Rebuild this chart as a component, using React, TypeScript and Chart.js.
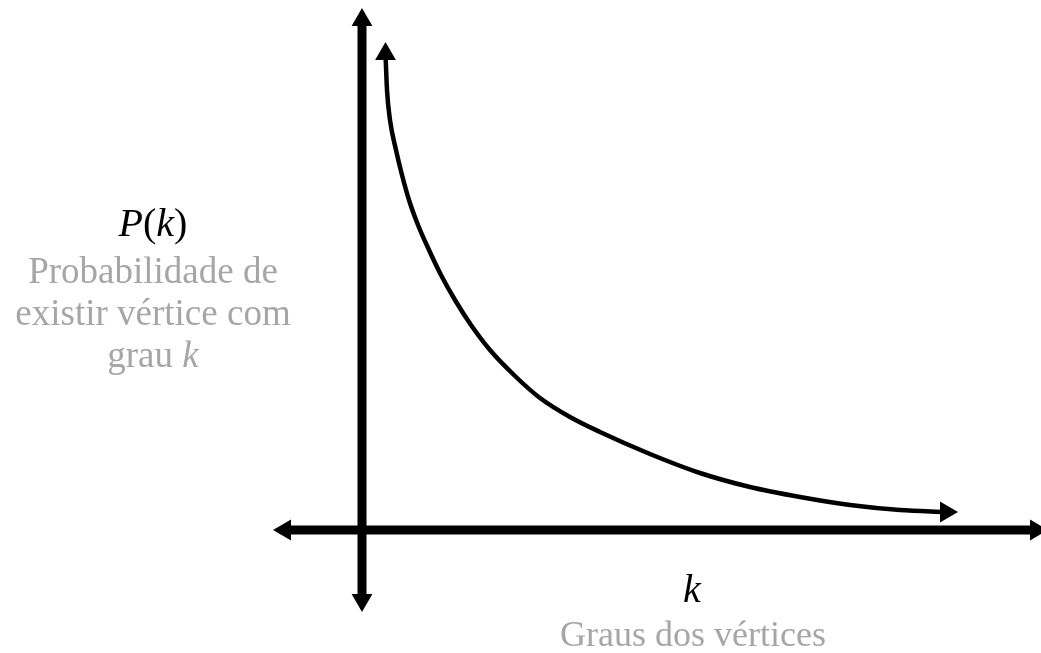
import React, { useEffect, useRef } from "react";
import { Chart, registerables } from "chart.js";

Chart.register(...registerables);

// Curve P(k) (units: distance from the origin)
const curveK = [23.5, 25, 28, 34, 40, 47, 56, 67, 79, 93, 109, 128, 153, 178, 208, 238, 288, 338, 388, 438, 488, 538, 584];
const curveP = [476, 440, 410, 380, 355, 330, 305, 280, 255, 230, 205, 180, 154, 132, 113, 98, 76, 57, 43, 33, 25, 20, 18];

// Axis lines (with arrow heads at both ends)
const xAxisK = [-77, 674];
const xAxisP = [0, 0];
const yAxisK = [0, 0];
const yAxisP = [510, -70];

const yTitle = [
  { t: "P", i: true },
  { t: "(", i: false },
  { t: "k", i: true },
  { t: ")", i: false },
];
const yLabelLines = [
  [{ t: "Probabilidade de", i: false }],
  [{ t: "existir vértice com", i: false }],
  [
    { t: "grau ", i: false },
    { t: "k", i: true },
  ],
];
const xTitle = [{ t: "k", i: true }];
const xLabel = [{ t: "Graus dos vértices", i: false }];

const FONT = '"Liberation Serif", "Times New Roman", serif';
const GRAY = "#a6a6a6";

type Seg = { t: string; i: boolean };

function drawRich(ctx: CanvasRenderingContext2D, segs: Seg[], cx: number, baseline: number, size: number, color: string) {
  const fontOf = (s: Seg) => `${s.i ? "italic " : ""}${size}px ${FONT}`;
  let total = 0;
  for (const s of segs) {
    ctx.font = fontOf(s);
    total += ctx.measureText(s.t).width;
  }
  let x = cx - total / 2;
  ctx.fillStyle = color;
  ctx.textAlign = "left";
  ctx.textBaseline = "alphabetic";
  for (const s of segs) {
    ctx.font = fontOf(s);
    ctx.fillText(s.t, x, baseline);
    x += ctx.measureText(s.t).width;
  }
}

const textPlugin = {
  id: "textLabels",
  afterDraw(chart: any) {
    const ctx: CanvasRenderingContext2D = chart.ctx;
    ctx.save();
    drawRich(ctx, yTitle, 153, 236, 40, "#000");
    const base = [283, 325, 367];
    yLabelLines.forEach((line, idx) => drawRich(ctx, line, 153, base[idx], 37, GRAY));
    drawRich(ctx, xTitle, 692, 602, 40, "#000");
    drawRich(ctx, xLabel, 693, 646, 36, GRAY);
    ctx.restore();
  },
};

export default function App() {
  const ref = useRef<HTMLCanvasElement | null>(null);

  useEffect(() => {
    if (!ref.current) return;
    const toXY = (xs: number[], ys: number[]) => xs.map((x, i) => ({ x, y: ys[i] }));
    const chart = new Chart(ref.current, {
      type: "line",
      data: {
        datasets: [
          {
            data: toXY(xAxisK, xAxisP),
            borderColor: "#000",
            backgroundColor: "#000",
            borderWidth: 9,
            tension: 0,
            pointStyle: "triangle",
            pointRadius: 12,
            pointRotation: [270, 90],
            pointBorderWidth: 0,
            pointBackgroundColor: "#000",
          },
          {
            data: toXY(yAxisK, yAxisP),
            borderColor: "#000",
            backgroundColor: "#000",
            borderWidth: 9,
            tension: 0,
            pointStyle: "triangle",
            pointRadius: 12,
            pointRotation: [0, 180],
            pointBorderWidth: 0,
            pointBackgroundColor: "#000",
          },
          {
            data: toXY(curveK, curveP),
            borderColor: "#000",
            backgroundColor: "#000",
            borderWidth: 4.5,
            cubicInterpolationMode: "monotone",
            pointStyle: "triangle",
            pointRadius: curveK.map((_, i) => (i === 0 || i === curveK.length - 1 ? 12 : 0)),
            pointRotation: curveK.map((_, i) => (i === 0 ? 0 : 90)),
            pointBorderWidth: 0,
            pointBackgroundColor: "#000",
          },
        ],
      } as any,
      options: {
        animation: false,
        responsive: false,
        devicePixelRatio: 1,
        layout: { padding: 0, autoPadding: false },
        plugins: {
          legend: { display: false },
          tooltip: { enabled: false },
        },
        events: [],
        scales: {
          x: { type: "linear", display: false, min: -362, max: 679, bounds: "data" },
          y: { type: "linear", display: false, min: -123, max: 530, bounds: "data" },
        },
      } as any,
      plugins: [textPlugin],
    });
    return () => chart.destroy();
  }, []);

  return (
    <div style={{ position: "fixed", left: 0, top: 0, width: 1041, height: 653, background: "#fff" }}>
      <canvas ref={ref} width={1041} height={653} style={{ display: "block" }} />
    </div>
  );
}
